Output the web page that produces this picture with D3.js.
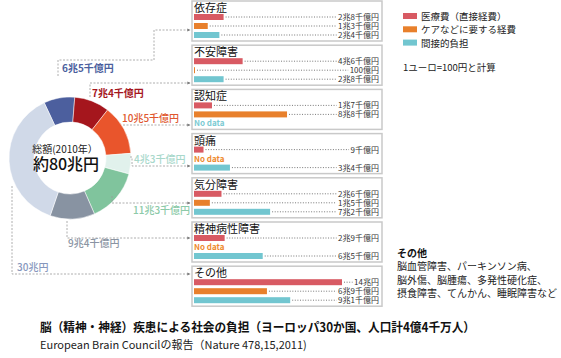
<!DOCTYPE html>
<html><head><meta charset="utf-8">
<script src="https://cdn.jsdelivr.net/npm/d3@7"></script>
<style>
html,body{margin:0;padding:0;background:#fff;}
svg{display:block;font-family:"Noto Sans CJK JP","Noto Sans",sans-serif;}
</style></head>
<body><svg id="c" width="561" height="358"></svg>
<script>
const categories = ["依存症","不安障害","認知症","頭痛","気分障害","精神病性障害","その他"];
const seriesNames = ["医療費（直接経費）","ケアなどに要する経費","間接的負担"];
const direct   = [2.8, 4.6, 1.7, 0.9, 2.6, 2.9, 14];
const care     = [1.3, 0.01, 8.8, null, 1.5, null, 6.9];
const indirect = [2.4, 2.8, null, 3.4, 7.2, 6.5, 9.1];
const directLabels   = ["2兆8千億円","4兆6千億円","1兆7千億円","9千億円","2兆6千億円","2兆9千億円","14兆円"];
const careLabels     = ["1兆3千億円","100億円","8兆8千億円",null,"1兆5千億円",null,"6兆9千億円"];
const indirectLabels = ["2兆4千億円","2兆8千億円",null,"3兆4千億円","7兆2千億円","6兆5千億円","9兆1千億円"];
const totals      = [6.5, 7.4, 10.5, 4.3, 11.3, 9.4, 30];
const totalLabels = ["6兆5千億円","7兆4千億円","10兆5千億円","4兆3千億円","11兆3千億円","9兆4千億円","30兆円"];
const centerTitle = "総額(2010年）";
const centerValue = "約80兆円";
const noteText = "1ユーロ=100円と計算";
const otherTitle = "その他";
const otherLines = ["脳血管障害、パーキンソン病、","脳外傷、脳腫瘍、多発性硬化症、","摂食障害、てんかん、睡眠障害など"];
const title = "脳（精神・神経）疾患による社会の負担（ヨーロッパ30か国、人口計4億4千万人）";
const subtitle = "European Brain Councilの報告（Nature 478,15,2011)";

const seriesColors = ["#d85a63","#e8802c","#72c6d0"];
const noDataColors = ["#d85a63","#ee8a2e","#7ccbd3"];
const sliceColors = ["#4c5f9e","#a5161d","#e9552c","#e1f1ec","#80c49d","#8893a2","#d0d9e8"];
const labelColors = ["#4c5f9e","#a5161d","#e0572e","#a8d8cb","#8ccaa8","#8a94a3","#8797bd"];

const svg = d3.select("#c");
const series = [direct, care, indirect];
const seriesLabels = [directLabels, careLabels, indirectLabels];

// panels
const y = d3.scaleBand().domain(categories).range([1, 306.2]).paddingInner(4.2/44.2).paddingOuter(0);
const row = d3.scaleBand().domain([0,1,2]).range([13,37]).paddingInner(1/3);
const x = d3.scaleLinear().domain([0,14]).range([194,342]);
const panelX0 = 192, panelX1 = 382, labelRight = 379;

const defs = svg.append("defs");
defs.append("marker").attr("id","arr").attr("viewBox","0 0 6 6").attr("refX",5).attr("refY",3)
  .attr("markerWidth",4).attr("markerHeight",4).attr("orient","auto")
  .append("path").attr("d","M0,0L6,3L0,6Z").attr("fill","#777");

const panels = svg.selectAll("g.panel").data(categories).join("g").attr("class","panel")
  .attr("transform", d => `translate(0,${y(d)})`);
panels.append("rect").attr("x",panelX0).attr("y",0).attr("width",panelX1-panelX0).attr("height",y.bandwidth())
  .attr("fill","#fff").attr("stroke","#c9c9c9").attr("stroke-width",1.5);
panels.append("text").attr("x",194).attr("y",11).attr("font-size",11).attr("fill","#111").text(d => d);

panels.each(function(cat, i){
  const g = d3.select(this);
  series.forEach((s, k) => {
    const v = s[i];
    const cy = row(k) + row.bandwidth()/2;
    if (v == null) {
      g.append("text").attr("x",194).attr("y",cy+3).attr("font-size",8).attr("font-weight",700)
        .attr("fill",noDataColors[k]).text("No data");
      return;
    }
    const w = Math.max(1, x(v) - x(0));
    g.append("rect").attr("x",x(0)).attr("y",row(k)).attr("width",w).attr("height",row.bandwidth())
      .attr("fill",seriesColors[k]);
    const t = g.append("text").attr("x",labelRight).attr("y",cy+3).attr("text-anchor","end")
      .attr("font-size",8).attr("fill","#333").text(seriesLabels[k][i]);
    const tw = t.node().getComputedTextLength();
    g.append("line").attr("x1",x(0)+w+2).attr("x2",labelRight-tw-1.5).attr("y1",cy).attr("y2",cy)
      .attr("stroke","#555").attr("stroke-width",0.8).attr("stroke-dasharray","1,1.6");
  });
});

// donut
const cx = 70, cyD = 158, rOut = 61, rIn = 36;
const start = -25*Math.PI/180;
const pie = d3.pie().sort(null).value(d => d).startAngle(start).endAngle(start + 2*Math.PI);
const arc = d3.arc().innerRadius(rIn).outerRadius(rOut);
const dg = svg.append("g").attr("transform",`translate(${cx},${cyD})`);
dg.selectAll("path").data(pie(totals)).join("path").attr("d",arc)
  .attr("fill",(d,i)=>sliceColors[i]).attr("stroke","#fff").attr("stroke-width",0.5);
dg.append("text").attr("x",-5).attr("y",-5).attr("text-anchor","middle").attr("font-size",10).attr("fill","#222").text(centerTitle);
dg.append("text").attr("x",-4).attr("y",12).attr("text-anchor","middle").attr("font-size",16).attr("font-weight",500).attr("fill","#111").text(centerValue);

// connectors & total labels
const conn = [
  {pts:[[58,76],[58,60],[154,60],[154,30]], lx:62, ly:72, fw:700},
  {pts:[[90,97],[90,83]], lx:92, ly:97, fw:700},
  {pts:[[123,125]], lx:122, ly:122, fw:500},
  {pts:[[130,157],[132,157],[132,166]], lx:134, ly:163, fw:500},
  {pts:[[112,196],[112,203]], lx:133, ly:214, fw:500},
  {pts:[[67,221],[67,238]], lx:68, ly:247, fw:500},
  {pts:[[12,186],[12,274]], lx:17, ly:271, fw:500}
];
const line = d3.line();
conn.forEach((c, i) => {
  const last = c.pts[c.pts.length-1];
  const pts = c.pts.concat([[190, last[1]]]);
  svg.append("path").attr("d", line(pts)).attr("fill","none").attr("stroke","#9a9a9a")
    .attr("stroke-width",0.8).attr("stroke-dasharray","2,1.5").attr("marker-end","url(#arr)");
  svg.append("text").attr("x",c.lx).attr("y",c.ly).attr("font-size",10).attr("font-weight",c.fw)
    .attr("fill",labelColors[i]).text(totalLabels[i]);
});

// legend
const lg = svg.append("g");
seriesNames.forEach((n,k) => {
  lg.append("rect").attr("x",403).attr("y",13+k*13.3).attr("width",14).attr("height",6).attr("fill",seriesColors[k]);
  lg.append("text").attr("x",421).attr("y",20+k*13.3).attr("font-size",9.5).attr("fill","#222").text(n);
});
lg.append("text").attr("x",403).attr("y",71).attr("font-size",9.5).attr("fill","#222").text(noteText);

// other note
svg.append("text").attr("x",397).attr("y",257).attr("font-size",10).attr("font-weight",700).attr("fill","#111").text(otherTitle);
otherLines.forEach((l,j) => {
  svg.append("text").attr("x",397).attr("y",270+j*13.5).attr("font-size",10).attr("fill","#222").text(l);
});

// titles
svg.append("text").attr("x",40).attr("y",332).attr("font-size",12.5).attr("font-weight",700).attr("fill","#111")
  .attr("textLength",435).attr("lengthAdjust","spacingAndGlyphs").text(title);
svg.append("text").attr("x",40).attr("y",349).attr("font-size",11).attr("fill","#222").text(subtitle);
</script></body></html>
